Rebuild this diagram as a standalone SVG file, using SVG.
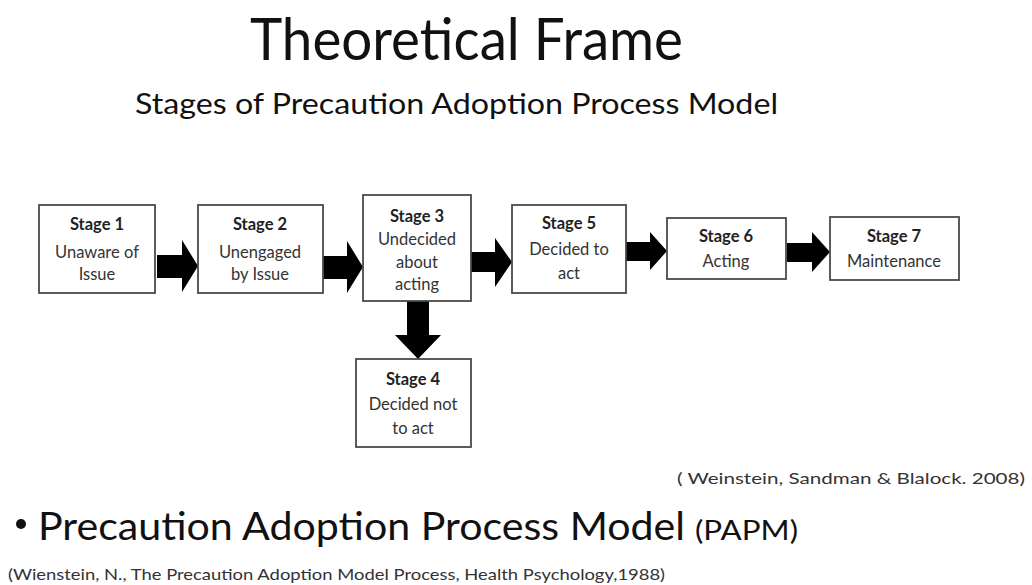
<svg xmlns="http://www.w3.org/2000/svg" width="1032" height="585" viewBox="0 0 1032 585">
<style>
.t{font-family:Lato,"Open Sans","Liberation Sans",sans-serif;fill:#111}
.box{fill:#fff;stroke:#4a4a4a;stroke-width:1.8}
.h{font-family:Lato,"Open Sans","Liberation Sans",sans-serif;font-weight:bold;font-size:16.5px;fill:#222;text-anchor:middle}
.b{font-family:Lato,"Open Sans","Liberation Sans",sans-serif;font-size:16.5px;fill:#333;text-anchor:middle}
.arr{fill:#000}
.c{font-family:Lato,"Open Sans","Liberation Sans",sans-serif;fill:#333}
</style>
<rect width="1032" height="585" fill="#fff"/>
<text class="t" x="250" y="60" font-size="58" textLength="433" lengthAdjust="spacingAndGlyphs">Theoretical Frame</text>
<text class="t" x="135" y="114" font-size="29" textLength="643" lengthAdjust="spacingAndGlyphs">Stages of Precaution Adoption Process Model</text>

<g id="connectors">
<polygon class="arr" points="157,255 182,255 182,240 198,266 182,292 182,278 157,278"/>
<polygon class="arr" points="323,256 347,256 347,241 363,267 347,293 347,279 323,279"/>
<polygon class="arr" points="471,252 495,252 495,238 512,262 495,287 495,272 471,272"/>
<polygon class="arr" points="626,242 650,242 650,232 667,251 650,270 650,261 626,261"/>
<polygon class="arr" points="787,243 812,243 812,232 830,252 812,272 812,262 787,262"/>
<polygon class="arr" points="407,301 429,301 429,335 441,335 418,359 395,335 407,335"/>
</g>

<g id="stage1">
<rect class="box" x="39" y="205" width="116" height="88"/>
<text class="h" x="97" y="230">Stage 1</text>
<text class="b" x="97" y="258">Unaware of</text>
<text class="b" x="97" y="280">Issue</text>
</g>
<g id="stage2">
<rect class="box" x="198" y="205" width="125" height="88"/>
<text class="h" x="260" y="230">Stage 2</text>
<text class="b" x="260" y="258">Unengaged</text>
<text class="b" x="260" y="280">by Issue</text>
</g>
<g id="stage3">
<rect class="box" x="363" y="195" width="108" height="106"/>
<text class="h" x="417" y="222">Stage 3</text>
<text class="b" x="417" y="245">Undecided</text>
<text class="b" x="417" y="268">about</text>
<text class="b" x="417" y="290">acting</text>
</g>
<g id="stage4">
<rect class="box" x="356" y="359" width="115" height="88"/>
<text class="h" x="413" y="385">Stage 4</text>
<text class="b" x="413" y="410">Decided not</text>
<text class="b" x="413" y="434">to act</text>
</g>
<g id="stage5">
<rect class="box" x="512" y="205" width="114" height="88"/>
<text class="h" x="569" y="229">Stage 5</text>
<text class="b" x="569" y="255">Decided to</text>
<text class="b" x="569" y="279">act</text>
</g>
<g id="stage6">
<rect class="box" x="667" y="218" width="119" height="61"/>
<text class="h" x="726" y="242">Stage 6</text>
<text class="b" x="726" y="267">Acting</text>
</g>
<g id="stage7">
<rect class="box" x="830" y="217" width="129" height="63"/>
<text class="h" x="894" y="242">Stage 7</text>
<text class="b" x="894" y="267">Maintenance</text>
</g>

<text class="c" x="677" y="484" font-size="15" textLength="348" lengthAdjust="spacingAndGlyphs">( Weinstein, Sandman &amp; Blalock. 2008)</text>
<circle cx="21" cy="524" r="5" fill="#111"/>
<text class="t" x="38" y="540" font-size="39" textLength="647" lengthAdjust="spacingAndGlyphs">Precaution Adoption Process Model</text>
<text class="t" x="695" y="540" font-size="26" textLength="103" lengthAdjust="spacingAndGlyphs">(PAPM)</text>
<text class="c" x="8" y="580" font-size="15" textLength="657" lengthAdjust="spacingAndGlyphs">(Wienstein, N., The Precaution Adoption Model Process, Health Psychology,1988)</text>
</svg>
